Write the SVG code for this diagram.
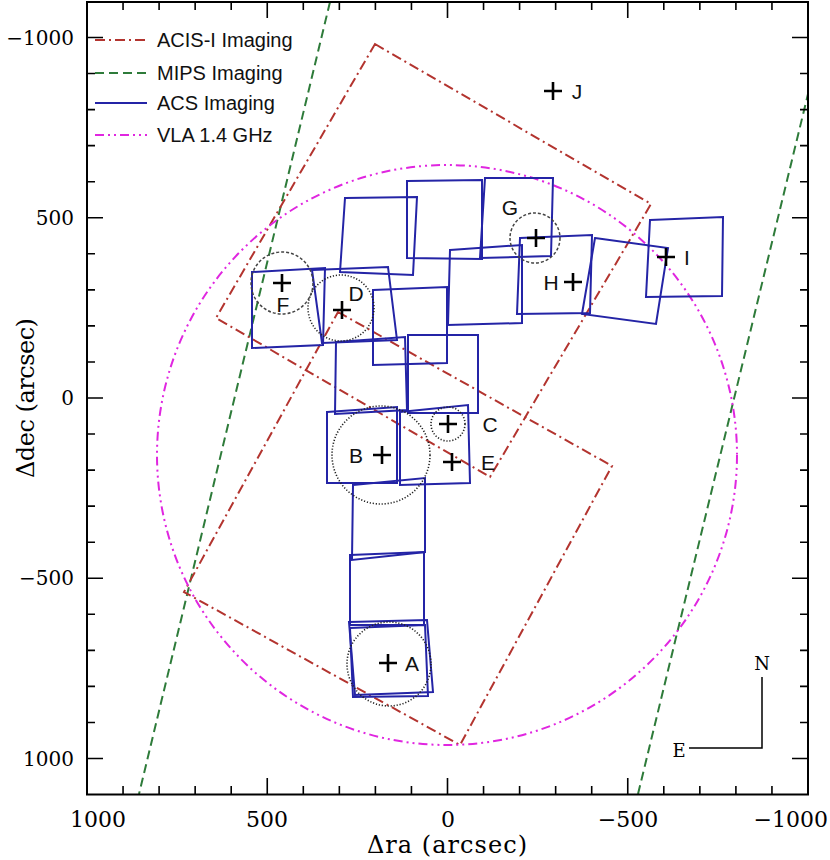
<svg xmlns="http://www.w3.org/2000/svg" width="830" height="860" viewBox="0 0 830 860">
<defs>
<style>
.acis{fill:none;stroke:#b3342f;stroke-width:2;stroke-dasharray:10 4 2 4}
.mips{fill:none;stroke:#2e7b3a;stroke-width:2;stroke-dasharray:9 5}
.acs{fill:none;stroke:#2424a6;stroke-width:2}
.vla{fill:none;stroke:#e026e0;stroke-width:2;stroke-dasharray:9 4 2 4 2 4}
.dot{fill:none;stroke:#222;stroke-width:1.6;stroke-dasharray:1.2 1.8}
.dsh{fill:none;stroke:#444;stroke-width:1.5;stroke-dasharray:3 2}
.cross{fill:none;stroke:#000;stroke-width:2.6}
.lbl{font-family:"Liberation Sans",Arial,sans-serif;font-size:21px;fill:#111;text-anchor:middle}
.leg{font-family:"Liberation Sans",Arial,sans-serif;font-size:20px;fill:#111}
.tk{fill:none;stroke:#000;stroke-width:1.6}
.ylab{font-family:"DejaVu Serif",serif;font-size:20px;fill:#000;text-anchor:end}
.xlab{font-family:"DejaVu Serif",serif;font-size:22px;fill:#000;text-anchor:middle}
.title{font-family:"DejaVu Serif",serif;font-size:24px;fill:#000;text-anchor:middle}
.cmp{font-family:"DejaVu Serif",serif;font-size:18px;fill:#000;text-anchor:middle}
</style>
<clipPath id="plot"><rect x="87" y="2" width="721" height="792.5"/></clipPath>
</defs>
<rect width="830" height="860" fill="#fff"/>

<g id="fields" clip-path="url(#plot)">
  <g id="mips">
    <line class="mips" x1="330" y1="2" x2="139" y2="794"/>
    <line class="mips" x1="638" y1="794" x2="808" y2="94"/>
  </g>
  <g id="acis">
    <polygon class="acis" points="375,44 651,204 490,477 216,318"/>
    <polygon class="acis" points="338,312 612,466 460,745 184,592"/>
  </g>
  <g id="vla">
    <circle class="vla" cx="447" cy="455" r="290"/>
  </g>
  <g id="acs">
    <polygon class="acs" points="252,272 325,268 323,345 252,348"/>
    <polygon class="acs" points="312,270 388,267 397,340 322,343"/>
    <polygon class="acs" points="345,198 417,197 413,275 340,272"/>
    <polygon class="acs" points="407,181 482,180 482,259 407,258"/>
    <polygon class="acs" points="485,178 553,178 551,256 480,258"/>
    <polygon class="acs" points="450,250 522,245 522,323 448,325"/>
    <polygon class="acs" points="520,238 592,235 590,313 517,314"/>
    <polygon class="acs" points="595,238 668,248 656,324 582,314"/>
    <polygon class="acs" points="650,220 723,217 722,296 646,297"/>
    <polygon class="acs" points="373,290 447,287 447,363 373,365"/>
    <polygon class="acs" points="336,342 405,337 407,410 335,414"/>
    <polygon class="acs" points="408,335 478,335 478,413 408,413"/>
    <polygon class="acs" points="327,412 397,407 397,483 327,483"/>
    <polygon class="acs" points="400,412 468,405 470,483 400,485"/>
    <polygon class="acs" points="353,485 425,478 425,552 352,560"/>
    <polygon class="acs" points="350,555 424,552 424,625 350,625"/>
    <polygon class="acs" points="349,622 427,620 433,692 355,695"/>
    <polygon class="acs" points="350,628 425,625 428,696 353,697"/>
  </g>
</g>

<g id="sources">
  <g id="src-A"><circle class="dot" cx="389" cy="664" r="42"/><path class="cross" d="M379,663h18M388,654v18"/><text class="lbl" x="412" y="671">A</text></g>
  <g id="src-B"><circle class="dot" cx="381" cy="455" r="49"/><path class="cross" d="M373,455h18M382,446v18"/><text class="lbl" x="356" y="463">B</text></g>
  <g id="src-C"><circle class="dot" cx="448" cy="424" r="17"/><path class="cross" d="M439,424h18M448,415v18"/><text class="lbl" x="490" y="432">C</text></g>
  <g id="src-D"><circle class="dot" cx="341" cy="308" r="33"/><path class="cross" d="M333,310h18M342,301v18"/><text class="lbl" x="356" y="301">D</text></g>
  <g id="src-E"><path class="cross" d="M443,462h18M452,453v18"/><text class="lbl" x="488" y="470">E</text></g>
  <g id="src-F"><circle class="dsh" cx="282" cy="283" r="31"/><path class="cross" d="M273,283h18M282,274v18"/><text class="lbl" x="283" y="312">F</text></g>
  <g id="src-G"><circle class="dsh" cx="535" cy="238" r="25"/><path class="cross" d="M527,238h18M536,229v18"/><text class="lbl" x="510" y="215">G</text></g>
  <g id="src-H"><path class="cross" d="M564,282h18M573,273v18"/><text class="lbl" x="551" y="290">H</text></g>
  <g id="src-I"><path class="cross" d="M657,257h18M666,248v18"/><text class="lbl" x="687" y="265">I</text></g>
  <g id="src-J"><path class="cross" d="M544,91h18M553,82v18"/><text class="lbl" x="577" y="99">J</text></g>
</g>

<g id="axes">
  <rect x="87" y="2" width="721" height="792.5" fill="none" stroke="#000" stroke-width="2"/>
  <path class="tk" d="M123.05,794v-8M159.1,794v-8M195.15,794v-8M231.2,794v-8M303.3,794v-8M339.35,794v-8M375.4,794v-8M411.45,794v-8M483.55,794v-8M519.6,794v-8M555.65,794v-8M591.7,794v-8M663.8,794v-8M699.85,794v-8M735.9,794v-8M771.95,794v-8M267.25,794v-16M447.5,794v-16M627.75,794v-16"/>
  <path class="tk" d="M123.05,2v8M159.1,2v8M195.15,2v8M231.2,2v8M303.3,2v8M339.35,2v8M375.4,2v8M411.45,2v8M483.55,2v8M519.6,2v8M555.65,2v8M591.7,2v8M663.8,2v8M699.85,2v8M735.9,2v8M771.95,2v8M267.25,2v16M447.5,2v16M627.75,2v16"/>
  <path class="tk" d="M87,73.55h8M87,109.6h8M87,145.65h8M87,181.7h8M87,253.8h8M87,289.85h8M87,325.9h8M87,361.95h8M87,434.05h8M87,470.1h8M87,506.15h8M87,542.2h8M87,614.3h8M87,650.35h8M87,686.4h8M87,722.45h8M87,37.5h16M87,217.75h16M87,398h16M87,578.25h16M87,758.5h16"/>
  <path class="tk" d="M808,73.55h-8M808,109.6h-8M808,145.65h-8M808,181.7h-8M808,253.8h-8M808,289.85h-8M808,325.9h-8M808,361.95h-8M808,434.05h-8M808,470.1h-8M808,506.15h-8M808,542.2h-8M808,614.3h-8M808,650.35h-8M808,686.4h-8M808,722.45h-8M808,37.5h-16M808,217.75h-16M808,398h-16M808,578.25h-16M808,758.5h-16"/>
  <text class="ylab" x="74" y="45">−1000</text>
  <text class="ylab" x="74" y="225">500</text>
  <text class="ylab" x="74" y="405">0</text>
  <text class="ylab" x="74" y="585">−500</text>
  <text class="ylab" x="74" y="766">1000</text>
  <text class="xlab" x="98" y="827">1000</text>
  <text class="xlab" x="267" y="827">500</text>
  <text class="xlab" x="448" y="827">0</text>
  <text class="xlab" x="628" y="827">−500</text>
  <text class="xlab" x="828" y="827" style="text-anchor:end">−1000</text>
  <text class="title" x="447" y="853" textLength="160" lengthAdjust="spacing">Δra (arcsec)</text>
  <text class="title" transform="translate(34,398) rotate(-90)" x="0" y="0" textLength="160" lengthAdjust="spacing">Δdec (arcsec)</text>
</g>

<g id="legend">
  <line class="acis" x1="95" y1="40" x2="147" y2="40"/>
  <text class="leg" x="157" y="47">ACIS-I Imaging</text>
  <line class="mips" x1="95" y1="73" x2="147" y2="73"/>
  <text class="leg" x="157" y="80">MIPS Imaging</text>
  <line class="acs" x1="95" y1="103" x2="147" y2="103"/>
  <text class="leg" x="157" y="110">ACS Imaging</text>
  <line class="vla" x1="95" y1="135" x2="147" y2="135"/>
  <text class="leg" x="157" y="142">VLA 1.4 GHz</text>
</g>

<g id="compass">
  <path d="M762,677V748H689" fill="none" stroke="#000" stroke-width="1.5"/>
  <text class="cmp" x="762" y="670">N</text>
  <text class="cmp" x="679" y="757">E</text>
</g>
</svg>
